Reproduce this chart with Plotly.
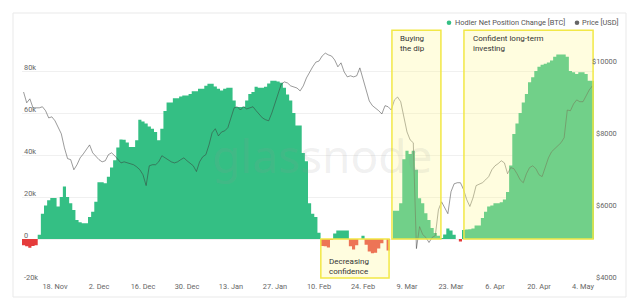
import pandas as pd
import plotly.graph_objects as go

# ---------------- data ----------------
start_date = "2019-11-08"
n_days = 182

hodler_change = [
    -3000, -3500, -4200, -3300, -3000, 2000, 12000, 16000, 18500, 19500,
    19500, 15500, 20000, 25000, 20000, 17000, 13800, 9000, 8000, 7500,
    7500, 10500, 13000, 17700, 27000, 27000, 26500, 29600, 34000, 37500,
    43600, 47400, 47300, 46000, 43800, 43800, 47000, 56800, 56000, 55000,
    53600, 52500, 50900, 47000, 52500, 61000, 65000, 65000, 67000, 67000,
    67800, 68300, 68300, 69000, 70400, 70400, 71500, 71500, 73000, 73900,
    73900, 72600, 71500, 70700, 71500, 72000, 72000, 66000, 62800, 62800,
    63000, 66000, 69000, 70000, 72500, 72000, 72000, 72500, 74000, 75400,
    75400, 75000, 74400, 72000, 68800, 66000, 60000, 54000, 54000, 41000,
    37000, 17000, 12000, 10500, 3000, -3300, -3500, -4000, -500, 2600,
    4000, 4000, 4000, 4000, -3500, -5000, -3000, 0, 1500, -2700,
    -6000, -6800, -6500, -4500, -2000, 0, -5500, 0, 13500, 13500,
    17000, 38000, 42000, 40500, 42000, 33000, 19400, 17000, 12300, 9000,
    5200, 2800, 1500, 500, 2200, 5000, 4000, 2000, 0, -1200,
    4300, 4500, 4700, 5000, 6400, 6400, 10000, 13000, 15500, 16000,
    17000, 17000, 17500, 18800, 22400, 35000, 50000, 55000, 60000, 65000,
    69000, 74600, 77000, 80000, 82000, 83000, 83500, 84000, 85000, 86800,
    87800, 87800, 87800, 86800, 80000, 79400, 78600, 79400, 79400, 78600,
    75400, 75400,
]

price_usd = [
    9250, 8950, 9060, 8810, 8810, 8810, 8840, 8730, 8530, 8560,
    8450, 8280, 8090, 7700, 7400, 7370, 7090, 7230, 7420, 7530,
    7650, 7780, 7560, 7450, 7370, 7310, 7340, 7510, 7560, 7480,
    7370, 7280, 7310, 7280, 7260, 7230, 7170, 7090, 6950, 6650,
    7200, 7230, 7230, 7310, 7480, 7420, 7370, 7310, 7280, 7310,
    7370, 7420, 7340, 7280, 7200, 7040, 7310, 7450, 7510, 7780,
    8120, 8230, 8030, 8140, 8170, 8260, 8530, 8810, 8840, 8750,
    8840, 8780, 8810, 8840, 8730, 8620, 8530, 8480, 8450, 8670,
    8950, 9250, 9470, 9530, 9500, 9420, 9390, 9360, 9280, 9420,
    9640, 9810, 9950, 10080, 10110, 10250, 10330, 10280, 10250, 10140,
    9950, 10060, 9810, 9670, 9700, 9670, 9700, 9920, 9610, 9360,
    9000, 8870, 8810, 8730, 8640, 8870, 8840, 8750, 9030, 9110,
    8980, 8530, 8140, 7920, 7840, 4900, 5510, 5290, 5210, 5070,
    5210, 5260, 5980, 6200, 6040, 5870, 6480, 6700, 6730, 6730,
    6540, 6260, 6070, 6310, 6650, 6680, 6730, 6810, 6900, 7090,
    7200, 7260, 7340, 7280, 6980, 7150, 7120, 6980, 6810, 6730,
    6980, 7150, 7200, 7120, 6950, 6900, 7170, 7420, 7590, 7670,
    7760, 7840, 7980, 8750, 8730, 8920, 9030, 8980, 8980, 9140,
    9310, 9420,
]

tick_dates = ["2019-11-18", "2019-12-02", "2019-12-16", "2019-12-30",
              "2020-01-13", "2020-01-27", "2020-02-10", "2020-02-24",
              "2020-03-09", "2020-03-23", "2020-04-06", "2020-04-20",
              "2020-05-04"]
tick_labels = ["18. Nov", "2. Dec", "16. Dec", "30. Dec", "13. Jan", "27. Jan",
               "10. Feb", "24. Feb", "9. Mar", "23. Mar", "6. Apr", "20. Apr",
               "4. May"]

left_ticks = [-20000, 0, 20000, 40000, 60000, 80000, 100000]
left_labels = ["-20k", "0", "20k", "40k", "60k", "80k", ""]
right_ticks = [4000, 6000, 8000, 10000]
right_labels = ["$4000", "$6000", "$8000", "$10000"]

# highlighted periods: (start, end, bottom, top)
periods = [
    ("2020-02-10 14:00", "2020-03-03 07:00", -18600, 0),
    ("2020-03-04 05:00", "2020-03-19 19:00", 0, 99400),
    ("2020-03-27 03:00", "2020-05-07 05:00", 0, 99400),
]
period_labels = ["Decreasing<br>confidence", "Buying<br>the dip",
                 "Confident long-term<br>investing"]

# ---------------- styling ----------------
GREEN = "#34bf84"
RED = "#e53b3b"
FONT = "Roboto"
W, H = 640, 300
ML, MR, MT, MB = 22, 46, 29, 19
PW, PH = W - ML - MR, H - MT - MB


def px_x(px):
    return (px - ML) / PW


def px_y(py):
    return (H - MB - py) / PH


dates = pd.date_range(start_date, periods=n_days, freq="D")
half = pd.Timedelta(hours=12)
# daily columns drawn as a stepped, filled outline (no seams between days)
step_x = list(dates - half) + [dates[-1] + half]
pos_part = [max(v, 0) for v in hodler_change]
neg_part = [min(v, 0) for v in hodler_change]

fig = go.Figure()
for part, col in [(pos_part, GREEN), (neg_part, RED)]:
    fig.add_trace(go.Scatter(
        x=step_x, y=part + [part[-1]], mode="lines", line=dict(width=0, shape="hv"),
        fill="tozeroy", fillcolor=col, showlegend=False, hoverinfo="skip",
        name="Hodler Net Position Change [BTC]",
    ))
fig.add_trace(go.Scatter(
    x=dates, y=price_usd, yaxis="y2", mode="lines",
    line=dict(color="rgba(55,55,55,0.5)", width=1), showlegend=False,
    name="Price [USD]",
))

shapes = []
for x0, x1, y0, y1 in periods:
    shapes.append(dict(type="rect", xref="x", yref="y", x0=x0, x1=x1, y0=y0, y1=y1,
                       fillcolor="rgba(255,250,150,0.30)",
                       line=dict(color="rgb(242,232,70)", width=1.5), layer="above"))

# card border
shapes.append(dict(type="rect", xref="paper", yref="paper",
                   x0=px_x(13), x1=px_x(626), y0=px_y(297), y1=px_y(13),
                   line=dict(color="#e9e9e9", width=1), fillcolor="rgba(0,0,0,0)",
                   layer="above"))
# legend markers
for cx, col in [(449, GREEN), (577, "#666666")]:
    r = 2.3
    shapes.append(dict(type="circle", xref="paper", yref="paper",
                       x0=px_x(cx - r), x1=px_x(cx + r), y0=px_y(22.7 + r), y1=px_y(22.7 - r),
                       fillcolor=col, line=dict(width=0), layer="above"))

tickfont = dict(family=FONT, size=7.4, color="#666666")

ann = []
ann.append(dict(text="glassnode", xref="paper", yref="paper", x=px_x(322), y=px_y(155),
                showarrow=False, font=dict(family="Noto Sans", size=46,
                                           color="rgba(150,150,150,0.15)")))
for v, t in zip(left_ticks, left_labels):
    if t:
        ann.append(dict(text=t, xref="paper", yref="y", x=0, y=v, xanchor="left",
                        yanchor="middle", yshift=4, showarrow=False, font=tickfont))
for v, t in zip(right_ticks, right_labels):
    ann.append(dict(text=t, xref="paper", yref="y2", x=px_x(619), y=v, xanchor="right",
                    yanchor="middle", yshift=4, showarrow=False, font=tickfont))

label_pos = [(327, 266.5), (398, 43.5), (471, 43.5)]
for t, (x, y) in zip(period_labels, label_pos):
    ann.append(dict(text=t, xref="paper", yref="paper", x=px_x(x), y=px_y(y),
                    xanchor="left", yanchor="middle", align="left", showarrow=False,
                    font=dict(family=FONT, size=8, color="#333333")))
for t, x in [("Hodler Net Position Change [BTC]", 453), ("Price [USD]", 580)]:
    ann.append(dict(text=t, xref="paper", yref="paper", x=px_x(x), y=px_y(22.7),
                    xanchor="left", yanchor="middle", showarrow=False,
                    font=dict(family=FONT, size=7.4, color="#555555")))

fig.update_layout(
    width=W, height=H, margin=dict(l=ML, r=MR, t=MT, b=MB, autoexpand=False),
    paper_bgcolor="white", plot_bgcolor="white",
    shapes=shapes, annotations=ann, showlegend=False,
    font=dict(family=FONT),
    xaxis=dict(type="date", range=["2019-11-07 12:00", "2020-05-07 12:00"],
               tickvals=tick_dates, ticktext=tick_labels, showgrid=False,
               zeroline=False, showline=False, ticks="", tickfont=tickfont,
               automargin=False),
    yaxis=dict(range=[-20000, 100000], tickvals=left_ticks, showticklabels=False,
               gridcolor="#f0f0f0", gridwidth=1, zeroline=False, showline=False,
               automargin=False),
    yaxis2=dict(range=[4000, 11000], overlaying="y", side="right",
                showticklabels=False, showgrid=False, zeroline=False, showline=False,
                automargin=False),
)

fig.write_html("out.html")
